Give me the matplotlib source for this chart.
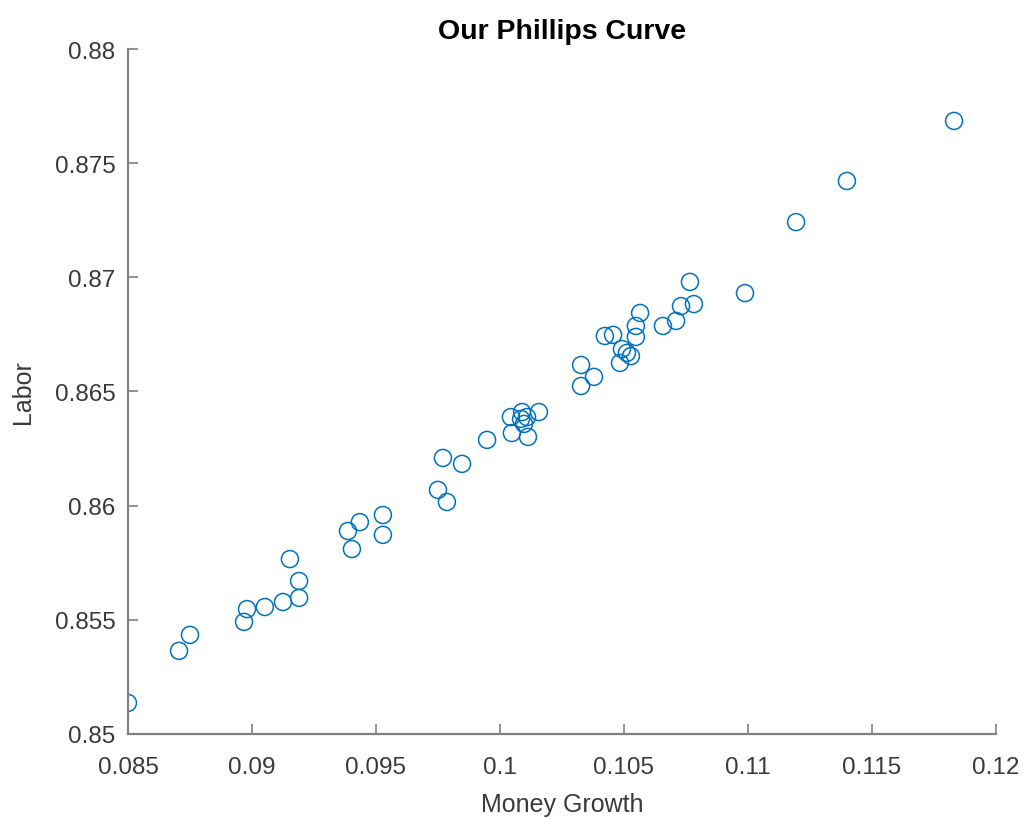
import numpy as np
import matplotlib
matplotlib.use('Agg')
import matplotlib.pyplot as plt

# データ
money_growth = [
    0.08500, 0.08706, 0.08750, 0.08968, 0.08980, 0.09052, 0.09125, 0.09190,
    0.09190, 0.09153, 0.09387, 0.09403, 0.09435, 0.09528, 0.09528, 0.09750,
    0.09786, 0.09770, 0.09847, 0.09948, 0.10044, 0.10089, 0.10109, 0.10157,
    0.10097, 0.10048, 0.10113, 0.10327, 0.10327, 0.10379, 0.10423, 0.10456,
    0.10565, 0.10548, 0.10548, 0.10492, 0.10512, 0.10528, 0.10484, 0.10657,
    0.10710, 0.10730, 0.10782, 0.10766, 0.10988, 0.11194, 0.11399, 0.11831,
    0.10085,
]
labor = [
    0.85136, 0.85364, 0.85434, 0.85491, 0.85547, 0.85556, 0.85578, 0.85596,
    0.85670, 0.85766, 0.85889, 0.85810, 0.85928, 0.85959, 0.85872, 0.86069,
    0.86016, 0.86209, 0.86183, 0.86288, 0.86388, 0.86410, 0.86388, 0.86410,
    0.86358, 0.86318, 0.86301, 0.86616, 0.86524, 0.86564, 0.86743, 0.86748,
    0.86844, 0.86787, 0.86739, 0.86686, 0.86669, 0.86655, 0.86625, 0.86787,
    0.86809, 0.86874, 0.86883, 0.86980, 0.86931, 0.87242, 0.87422, 0.87685,
    0.86380,
]
xticks = [0.085, 0.09, 0.095, 0.1, 0.105, 0.11, 0.115, 0.12]
xticklabels = ['0.085', '0.09', '0.095', '0.1', '0.105', '0.11', '0.115', '0.12']
yticks = [0.85, 0.855, 0.86, 0.865, 0.87, 0.875, 0.88]
yticklabels = ['0.85', '0.855', '0.86', '0.865', '0.87', '0.875', '0.88']

plt.rcParams['font.family'] = ['Liberation Sans', 'DejaVu Sans']

fig = plt.figure(figsize=(10.27, 8.2), dpi=100)
ax = fig.add_axes([0.1246, 0.1037, 0.8452, 0.8353])

ax.scatter(money_growth, labor, s=150, facecolors='none',
           edgecolors='#0072BD', linewidths=1.1)

ax.set_xlim(0.085, 0.12)
ax.set_ylim(0.85, 0.88)
ax.set_xticks(xticks)
ax.set_xticklabels(xticklabels)
ax.set_yticks(yticks)
ax.set_yticklabels(yticklabels)

# MATLAB風の軸
for side in ['top', 'right']:
    ax.spines[side].set_visible(False)
for side in ['left', 'bottom']:
    ax.spines[side].set_color('#808080')
    ax.spines[side].set_linewidth(1.6)
ax.tick_params(direction='in', length=7, width=1.2, colors='#808080',
               labelcolor='#3a3a3a', labelsize=17.5)
ax.tick_params(axis='x', pad=16)
ax.tick_params(axis='y', pad=9)

ax.set_xlabel('Money Growth', fontsize=18, color='#3a3a3a', labelpad=10)
ax.set_ylabel('Labor', fontsize=18, color='#3a3a3a', labelpad=14)
ax.set_title('Our Phillips Curve', fontsize=20.5, fontweight='bold', pad=8)

plt.savefig('out.png', dpi=100)
plt.close()
